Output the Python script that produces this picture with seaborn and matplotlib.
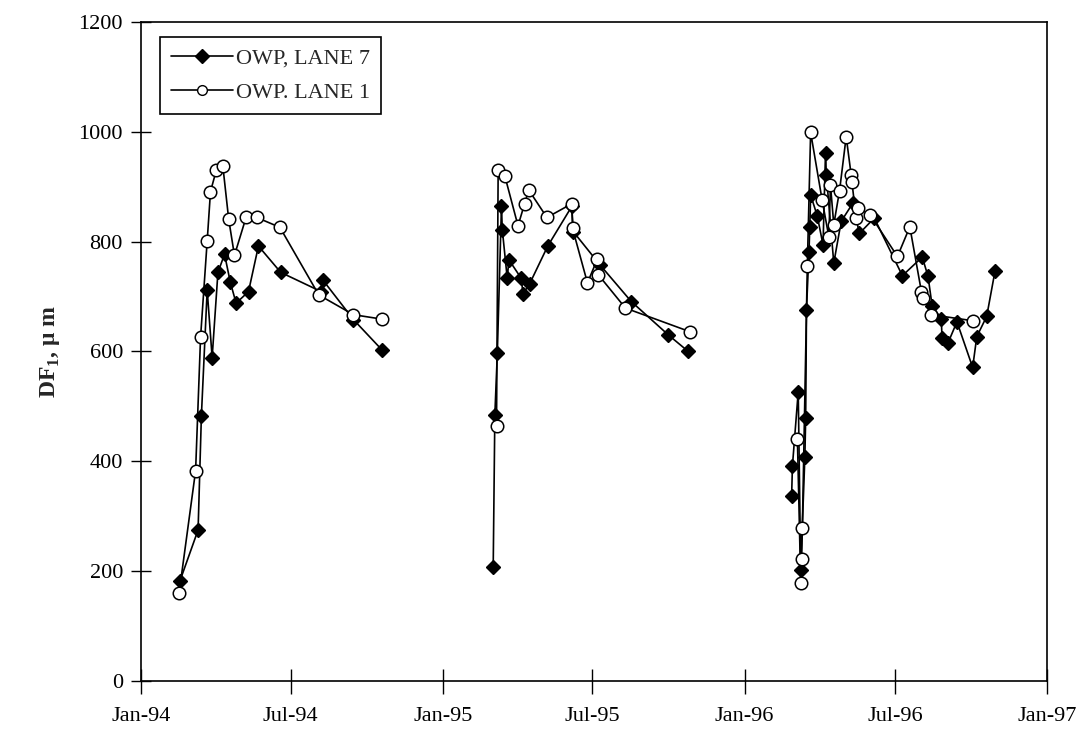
import matplotlib
matplotlib.use("Agg")
import matplotlib.pyplot as plt
import matplotlib.dates as mdates
from matplotlib.lines import Line2D
import numpy as np
import pandas as pd
import seaborn as sns

# OWP, LANE 7 (filled diamonds), one list per season
lane7_dates_94 = ["1994-02-17", "1994-03-11", "1994-03-15", "1994-03-22", "1994-03-28",
                  "1994-04-04", "1994-04-12", "1994-04-19", "1994-04-26", "1994-05-11",
                  "1994-05-23", "1994-06-19", "1994-08-07", "1994-08-09", "1994-09-15",
                  "1994-10-20"]
lane7_vals_94 = [182, 275, 483, 712, 589, 744, 777, 726, 688, 709,
                 792, 744, 709, 730, 658, 602]

lane7_dates_95 = ["1995-03-03", "1995-03-05", "1995-03-08", "1995-03-13", "1995-03-14",
                  "1995-03-20", "1995-03-22", "1995-04-06", "1995-04-08", "1995-04-16",
                  "1995-05-08", "1995-06-06", "1995-06-08", "1995-07-10", "1995-08-17",
                  "1995-10-01", "1995-10-25"]
lane7_vals_95 = [207, 485, 597, 864, 822, 733, 767, 733, 705, 723,
                 792, 864, 818, 758, 691, 630, 600]

lane7_dates_96 = ["1996-02-27", "1996-02-28", "1996-03-06", "1996-03-09", "1996-03-14",
                  "1996-03-15", "1996-03-16", "1996-03-19", "1996-03-20", "1996-03-21",
                  "1996-03-29", "1996-04-05", "1996-04-08", "1996-04-09", "1996-04-18",
                  "1996-04-27", "1996-05-11", "1996-05-19", "1996-06-06", "1996-07-10",
                  "1996-08-03", "1996-08-10", "1996-08-15", "1996-08-26", "1996-08-27",
                  "1996-09-03", "1996-09-14", "1996-10-03", "1996-10-08", "1996-10-20",
                  "1996-10-30"]
lane7_vals_96 = [337, 392, 527, 203, 407, 478, 676, 782, 827, 885,
                 847, 794, 962, 922, 761, 837, 870, 815, 843, 738,
                 772, 737, 683, 660, 624, 615, 654, 571, 627, 664,
                 746]

# OWP. LANE 1 (open circles)
lane1_dates_94 = ["1994-02-16", "1994-03-08", "1994-03-14", "1994-03-22", "1994-03-26",
                  "1994-04-02", "1994-04-10", "1994-04-17", "1994-04-24", "1994-05-08",
                  "1994-05-21", "1994-06-18", "1994-08-04", "1994-09-15", "1994-10-19"]
lane1_vals_94 = [160, 383, 626, 801, 891, 930, 937, 841, 775, 844,
                 844, 826, 703, 667, 659]

lane1_dates_95 = ["1995-03-07", "1995-03-09", "1995-03-17", "1995-04-02", "1995-04-10",
                  "1995-04-15", "1995-05-07", "1995-06-06", "1995-06-07", "1995-06-25",
                  "1995-07-07", "1995-07-08", "1995-08-10", "1995-10-27"]
lane1_vals_95 = [464, 930, 920, 829, 869, 894, 844, 869, 824, 725,
                 768, 740, 679, 636]

lane1_dates_96 = ["1996-03-05", "1996-03-09", "1996-03-10", "1996-03-11", "1996-03-17",
                  "1996-03-21", "1996-04-04", "1996-04-12", "1996-04-14", "1996-04-18",
                  "1996-04-25", "1996-05-03", "1996-05-09", "1996-05-10", "1996-05-15",
                  "1996-05-17", "1996-06-01", "1996-07-04", "1996-07-19", "1996-08-02",
                  "1996-08-04", "1996-08-14", "1996-10-03"]
lane1_vals_96 = [440, 179, 222, 279, 756, 999, 875, 809, 903, 831,
                 893, 991, 922, 908, 843, 862, 849, 773, 827, 709,
                 697, 667, 656]

y_ticks = [0, 200, 400, 600, 800, 1000, 1200]
label7 = "OWP, LANE 7"
label1 = "OWP. LANE 1"


def season_frame(parts):
    rows = []
    for season, dates, vals in parts:
        rows.append(pd.DataFrame({"date": pd.to_datetime(dates), "value": vals,
                                  "season": season}))
    return pd.concat(rows, ignore_index=True)


df7 = season_frame([(1994, lane7_dates_94, lane7_vals_94),
                    (1995, lane7_dates_95, lane7_vals_95),
                    (1996, lane7_dates_96, lane7_vals_96)])
df1 = season_frame([(1994, lane1_dates_94, lane1_vals_94),
                    (1995, lane1_dates_95, lane1_vals_95),
                    (1996, lane1_dates_96, lane1_vals_96)])

sns.set_theme(style="ticks")
plt.rcParams["font.family"] = ["Liberation Serif", "DejaVu Serif"]
plt.rcParams["mathtext.fontset"] = "custom"
plt.rcParams["mathtext.rm"] = "Liberation Serif"
plt.rcParams["mathtext.bf"] = "Liberation Serif:bold"

fig = plt.figure(figsize=(10.9, 7.42), dpi=100)
ax = fig.add_axes([0.1294, 0.0822, 0.8312, 0.8882])

sns.lineplot(data=df7, x="date", y="value", units="season", estimator=None, sort=False,
             color="black", lw=1.2, marker="D", markersize=7.5,
             markerfacecolor="black", markeredgecolor="black", markeredgewidth=1,
             ax=ax)
sns.lineplot(data=df1, x="date", y="value", units="season", estimator=None, sort=False,
             color="black", lw=1.2, marker="o", markersize=9,
             markerfacecolor="white", markeredgecolor="black", markeredgewidth=1.1,
             ax=ax)

ax.set_xlim(pd.Timestamp("1994-01-01"), pd.Timestamp("1997-01-01"))
ax.set_ylim(0, 1200)
ax.set_yticks(y_ticks)
ax.xaxis.set_major_locator(mdates.MonthLocator(bymonth=[1, 7]))
ax.xaxis.set_major_formatter(mdates.DateFormatter("%b-%y"))
ax.xaxis.set_minor_locator(mdates.MonthLocator(bymonth=[1, 7]))
ax.minorticks_off()

ax.tick_params(axis="x", which="major", bottom=True, direction="inout", length=18,
               width=1, colors="black", labelsize=16, pad=10)
ax.tick_params(axis="y", which="major", left=True, direction="inout", length=14,
               width=1, colors="black", labelsize=16, pad=6)
for s in ax.spines.values():
    s.set_visible(True)
    s.set_color("black")
    s.set_linewidth(1.2)

ax.set_xlabel("")
ax.set_ylabel(r"DF$_{\mathbf{1}}$, μ m", fontsize=17, fontweight="bold", labelpad=12)

handles = [
    Line2D([], [], color="black", lw=1.2, marker="D", markersize=7,
           markerfacecolor="black", markeredgecolor="black"),
    Line2D([], [], color="black", lw=1.2, marker="o", markersize=7,
           markerfacecolor="white", markeredgecolor="black"),
]
leg = ax.legend(handles, [label7, label1], loc="upper left",
                bbox_to_anchor=(0.021, 0.977), borderaxespad=0, fontsize=16,
                frameon=True, fancybox=False, edgecolor="black", framealpha=1,
                handlelength=2.8, handletextpad=0.1, labelspacing=0.6,
                borderpad=0.5)
leg.get_frame().set_linewidth(1.2)

fig.savefig("out.png", dpi=100)
